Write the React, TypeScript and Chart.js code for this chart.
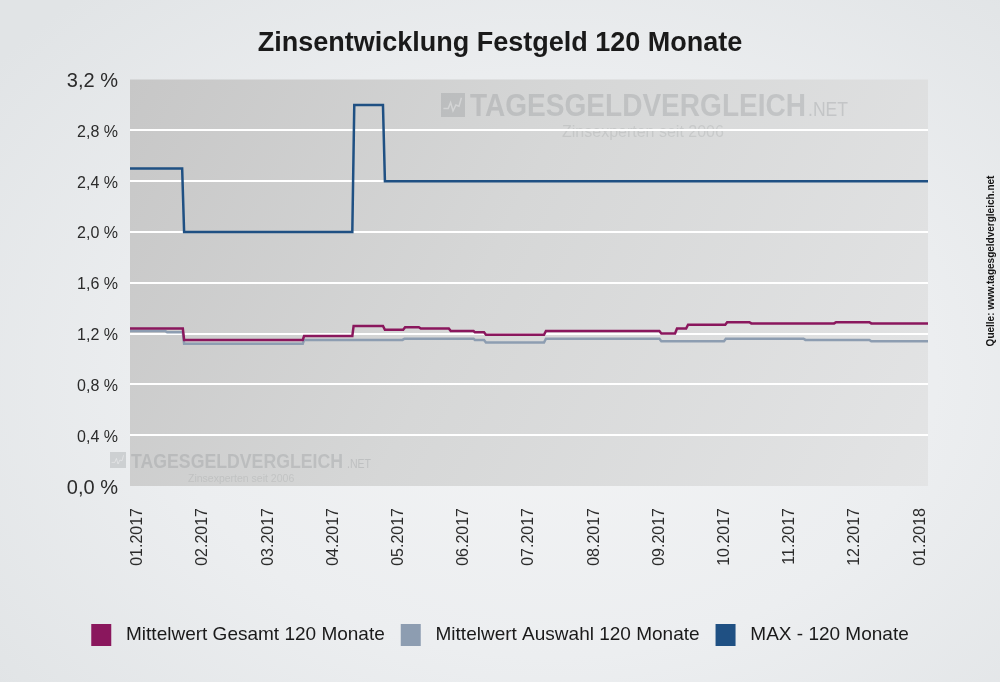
import React, { useEffect, useRef } from 'react';
import { Chart, registerables } from 'chart.js';

Chart.register(...registerables);

// ---- data ----
const monthLabels = [
  '01.2017', '02.2017', '03.2017', '04.2017', '05.2017', '06.2017', '07.2017',
  '08.2017', '09.2017', '10.2017', '11.2017', '12.2017', '01.2018',
];
const yTickValues = [0, 0.4, 0.8, 1.2, 1.6, 2.0, 2.4, 2.8, 3.2];

// x = position in months since 01.2017
const maxX = [-0.12, 0.68, 0.71, 3.29, 3.32, 3.76, 3.79, 12.12];
const maxY = [2.5, 2.5, 2.0, 2.0, 3.0, 3.0, 2.4, 2.4];

const gesamtX = [
  -0.12, 0.69, 0.71, 2.53, 2.55, 3.29, 3.31, 3.76, 3.79, 4.07, 4.1, 4.31, 4.34,
  4.77, 4.8, 5.15, 5.17, 5.31, 5.34, 6.23, 6.26, 8.0, 8.03, 8.24, 8.27, 8.41,
  8.44, 9.01, 9.04, 9.38, 9.41, 10.68, 10.71, 11.22, 11.25, 12.12,
];
const gesamtY = [
  1.24, 1.24, 1.15, 1.15, 1.18, 1.18, 1.26, 1.26, 1.23, 1.23, 1.25, 1.25, 1.24,
  1.24, 1.22, 1.22, 1.21, 1.21, 1.19, 1.19, 1.22, 1.22, 1.2, 1.2, 1.24, 1.24,
  1.27, 1.27, 1.29, 1.29, 1.28, 1.28, 1.29, 1.29, 1.28, 1.28,
];

const auswahlX = [
  -0.12, 0.42, 0.45, 0.69, 0.71, 2.53, 2.55, 4.06, 4.09, 5.15, 5.17, 5.31, 5.34,
  6.23, 6.26, 8.0, 8.03, 8.99, 9.02, 10.21, 10.24, 11.22, 11.25, 12.12,
];
const auswahlY = [
  1.22, 1.22, 1.21, 1.21, 1.12, 1.12, 1.15, 1.15, 1.16, 1.16, 1.15, 1.15, 1.13,
  1.13, 1.16, 1.16, 1.14, 1.14, 1.16, 1.16, 1.15, 1.15, 1.14, 1.14,
];

const seriesNames = ['Mittelwert Gesamt 120 Monate', 'Mittelwert Auswahl 120 Monate', 'MAX - 120 Monate'];
const seriesColors = ['#8a175d', '#8d9db1', '#1f5083'];

const FONT = "'Liberation Sans', Arial, Helvetica, sans-serif";

const pts = (xs: number[], ys: number[]) => xs.map((x, i) => ({ x, y: ys[i] }));

const drawIcon = (ctx: CanvasRenderingContext2D, x: number, y: number, s: number, color: string) => {
  ctx.fillStyle = color;
  ctx.fillRect(x, y, s, s);
  ctx.strokeStyle = 'rgba(255,255,255,0.35)';
  ctx.lineWidth = Math.max(1, s / 16);
  ctx.beginPath();
  ctx.moveTo(x + s * 0.1, y + s * 0.65);
  ctx.lineTo(x + s * 0.3, y + s * 0.65);
  ctx.lineTo(x + s * 0.4, y + s * 0.4);
  ctx.lineTo(x + s * 0.5, y + s * 0.75);
  ctx.lineTo(x + s * 0.62, y + s * 0.5);
  ctx.lineTo(x + s * 0.75, y + s * 0.55);
  ctx.lineTo(x + s * 0.85, y + s * 0.2);
  ctx.stroke();
};

const decorPlugin = {
  id: 'decor',
  beforeDraw(chart: any) {
    const { ctx, chartArea: a } = chart;
    ctx.save();
    const g = ctx.createLinearGradient(a.left, a.top, a.right, a.bottom);
    g.addColorStop(0, '#c7c7c7');
    g.addColorStop(0.45, '#d6d7d7');
    g.addColorStop(1, '#e3e4e5');
    ctx.fillStyle = g;
    ctx.fillRect(a.left, a.top, a.right - a.left, a.bottom - a.top);

    // watermark logos
    const wm = 'rgba(130,133,137,0.27)';
    ctx.textAlign = 'left';
    ctx.textBaseline = 'alphabetic';
    // top logo
    drawIcon(ctx, 441, 93, 24, wm);
    ctx.fillStyle = wm;
    ctx.font = `bold 32px ${FONT}`;
    ctx.fillText('TAGESGELDVERGLEICH', 470, 116, 336);
    ctx.font = `20px ${FONT}`;
    ctx.fillText('.NET', 808, 116, 40);
    ctx.fillStyle = 'rgba(130,133,137,0.2)';
    ctx.font = `16px ${FONT}`;
    ctx.fillText('Zinsexperten seit 2006', 562, 137);
    // bottom logo
    drawIcon(ctx, 110, 452, 16, wm);
    ctx.fillStyle = wm;
    ctx.font = `bold 21px ${FONT}`;
    ctx.fillText('TAGESGELDVERGLEICH', 131, 468, 212);
    ctx.font = `13px ${FONT}`;
    ctx.fillText('.NET', 347, 468, 24);
    ctx.fillStyle = 'rgba(130,133,137,0.2)';
    ctx.font = `10.5px ${FONT}`;
    ctx.fillText('Zinsexperten seit 2006', 188, 482);
    ctx.restore();
  },
  afterDraw(chart: any) {
    const { ctx } = chart;
    ctx.save();
    ctx.translate(991, 261);
    ctx.rotate(-Math.PI / 2);
    ctx.fillStyle = '#141414';
    ctx.font = `bold 10px ${FONT}`;
    ctx.textAlign = 'center';
    ctx.textBaseline = 'middle';
    ctx.fillText('Quelle: www.tagesgeldvergleich.net', 0, 0);
    ctx.restore();
  },
};

export default function App() {
  const canvasRef = useRef<HTMLCanvasElement | null>(null);

  useEffect(() => {
    const canvas = canvasRef.current;
    if (!canvas) return;
    const chart = new Chart(canvas, {
      type: 'line',
      data: {
        datasets: [
          { label: seriesNames[0], data: pts(gesamtX, gesamtY), borderColor: seriesColors[0], backgroundColor: seriesColors[0] },
          { label: seriesNames[1], data: pts(auswahlX, auswahlY), borderColor: seriesColors[1], backgroundColor: seriesColors[1] },
          { label: seriesNames[2], data: pts(maxX, maxY), borderColor: seriesColors[2], backgroundColor: seriesColors[2] },
        ].map((d) => ({ ...d, borderWidth: 2.5, pointRadius: 0, tension: 0, fill: false })) as any,
      },
      options: {
        animation: false,
        responsive: false,
        devicePixelRatio: 1,
        layout: { padding: { top: 0, bottom: 26, left: 0, right: 0 } },
        plugins: {
          tooltip: { enabled: false },
          title: {
            display: true,
            text: 'Zinsentwicklung Festgeld 120 Monate',
            color: '#1a1a1a',
            font: { family: FONT, size: 27, weight: 'bold' },
            padding: { top: 27.8, bottom: 19.3 },
          },
          legend: {
            position: 'bottom',
            labels: {
              boxWidth: 20,
              boxHeight: 22,
              padding: 16,
              color: '#1a1a1a',
              font: { family: FONT, size: 19 },
              generateLabels: (chart: any) =>
                chart.data.datasets.map((ds: any, i: number) => ({
                  text: ' ' + ds.label,
                  fillStyle: seriesColors[i],
                  strokeStyle: seriesColors[i],
                  lineWidth: 0,
                  hidden: false,
                  datasetIndex: i,
                  fontColor: '#1a1a1a',
                })),
            },
          },
        },
        scales: {
          x: {
            type: 'linear',
            min: -0.12,
            max: 12.12,
            afterBuildTicks: (s: any) => {
              s.ticks = monthLabels.map((_, i) => ({ value: i }));
            },
            afterFit: (s: any) => {
              s.height = 122;
            },
            grid: { display: false, drawTicks: false },
            border: { display: false },
            ticks: {
              autoSkip: false,
              maxRotation: 90,
              minRotation: 90,
              padding: 22,
              color: '#2b2b2b',
              font: { family: FONT, size: 16 },
              callback: (v: any) => monthLabels[Math.round(Number(v))] ?? '',
            },
          },
          y: {
            type: 'linear',
            min: 0,
            max: 3.2,
            afterBuildTicks: (s: any) => {
              s.ticks = yTickValues.map((v) => ({ value: v }));
            },
            afterFit: (s: any) => {
              s.width = 130;
            },
            grid: {
              drawTicks: false,
              lineWidth: 2,
              color: (c: any) =>
                c.tick && (c.tick.value === 0 || c.tick.value === 3.2) ? 'rgba(0,0,0,0)' : '#ffffff',
            },
            border: { display: false },
            ticks: {
              padding: 12,
              labelOffset: 2,
              color: '#2b2b2b',
              font: (c: any) => ({
                family: FONT,
                size: c.tick && (c.tick.value === 0 || c.tick.value === 3.2) ? 20 : 16,
              }),
              callback: (v: any) => Number(v).toFixed(1).replace('.', ',') + ' %',
            },
          },
          yRight: {
            type: 'linear',
            position: 'right',
            min: 0,
            max: 1,
            afterFit: (s: any) => {
              s.width = 72;
            },
            grid: { display: false, drawTicks: false },
            border: { display: false },
            ticks: { display: false },
          },
        },
      } as any,
      plugins: [decorPlugin],
    });
    return () => chart.destroy();
  }, []);

  return (
    <div
      style={{
        position: 'fixed',
        left: 0,
        top: 0,
        width: 1000,
        height: 682,
        background: 'radial-gradient(ellipse 70% 75% at 55% 55%, #f3f4f5 0%, #eceef0 55%, #e1e4e6 100%)',
      }}
    >
      <canvas ref={canvasRef} width={1000} height={682} style={{ display: 'block' }} />
    </div>
  );
}
